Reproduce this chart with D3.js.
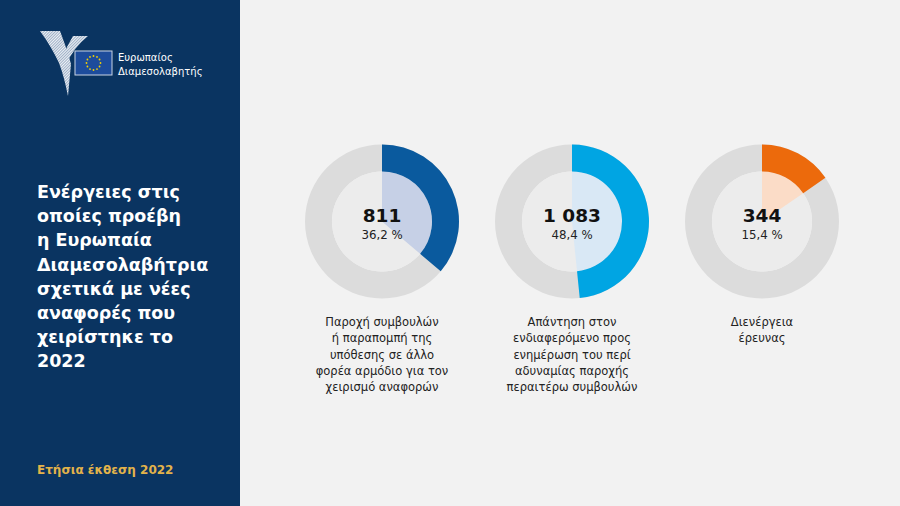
<!DOCTYPE html>
<html><head><meta charset="utf-8">
<script src="https://cdn.jsdelivr.net/npm/d3@7"></script>
<style>
html,body{margin:0;padding:0;background:#f2f2f2;}
svg{display:block;font-family:"DejaVu Sans",sans-serif;}
</style></head>
<body>
<svg id="chart" width="900" height="506"></svg>
<script>
// ---- data ----
const counts = [811, 1083, 344];
const countLabels = ["811", "1 083", "344"];
const percents = [36.2, 48.4, 15.4];
const percentLabels = ["36,2 %", "48,4 %", "15,4 %"];
const categories = [
  ["Παροχή συμβουλών", "ή παραπομπή της", "υπόθεσης σε άλλο", "φορέα αρμόδιο για τον", "χειρισμό αναφορών"],
  ["Απάντηση στον", "ενδιαφερόμενο προς", "ενημέρωση του περί", "αδυναμίας παροχής", "περαιτέρω συμβουλών"],
  ["Διενέργεια", "έρευνας"]
];
const strongColors = ["#0a5a9e", "#00a5e3", "#ec6a0c"];
const lightColors = ["#c6d0e6", "#d9e8f5", "#fbdcc7"];
const titleLines = ["Ενέργειες στις", "οποίες προέβη", "η Ευρωπαία", "Διαμεσολαβήτρια", "σχετικά με νέες", "αναφορές που", "χειρίστηκε το", "2022"];
const footer = "Ετήσια έκθεση 2022";
const logoLines = ["Ευρωπαίος", "Διαμεσολαβητής"];

const svg = d3.select("#chart");
svg.append("rect").attr("x",0).attr("y",0).attr("width",900).attr("height",506).attr("fill","#f2f2f2");
svg.append("rect").attr("x",0).attr("y",0).attr("width",240).attr("height",506).attr("fill","#0a3461");

// logo
const defs = svg.append("defs");
const pat = defs.append("pattern").attr("id","stripes").attr("patternUnits","userSpaceOnUse")
  .attr("width",2).attr("height",2).attr("patternTransform","rotate(45)");
pat.append("rect").attr("width",2).attr("height",2).attr("fill","#9fb0c6");
pat.append("rect").attr("width",1).attr("height",2).attr("fill","#eef2f7");
const logo = svg.append("g");
logo.append("path").attr("d","M40,31 L60,31 Q68,52 71,64 L68,96 Q64,76 59,63 Q51,46 40,31 Z").attr("fill","url(#stripes)");
logo.append("path").attr("d","M73,36 L88,36 Q73,48 66,65 L62,58 Q67,46 73,36 Z").attr("fill","url(#stripes)");
logo.append("rect").attr("x",75).attr("y",51).attr("width",37).attr("height",24)
  .attr("fill","#1d4c9c").attr("stroke","#c9d3e3").attr("stroke-width",1);
d3.range(12).forEach(i=>{
  const a = i/12*2*Math.PI;
  logo.append("circle").attr("cx",93.5+7*Math.sin(a)).attr("cy",63-7*Math.cos(a)).attr("r",0.9).attr("fill","#f5d200");
});
logo.selectAll("text.logo").data(logoLines).enter().append("text")
  .attr("x",118).attr("y",(d,i)=>61+13.5*i).attr("fill","#ffffff").attr("font-size",10).text(d=>d);

// title
svg.append("g").selectAll("text").data(titleLines).enter().append("text")
  .attr("x",37).attr("y",(d,i)=>198+24.2*i).attr("fill","#ffffff")
  .attr("font-size",17.5).attr("font-weight","bold").text(d=>d);

svg.append("text").attr("x",37).attr("y",474).attr("fill","#e3b34a")
  .attr("font-size",12).attr("font-weight","bold").text(footer);

// donuts
const x = d3.scalePoint().domain(d3.range(counts.length)).range([382, 762]);
const cy = 221.5, rOuter = 77, rInner = 50;
const angle = d3.scaleLinear().domain([0,100]).range([0, 2*Math.PI]);
const ringArc = d3.arc().innerRadius(rInner).outerRadius(rOuter);
const wedgeArc = d3.arc().innerRadius(0).outerRadius(rInner);

counts.forEach((c,i)=>{
  const g = svg.append("g").attr("transform",`translate(${x(i)},${cy})`);
  g.append("path").attr("d", ringArc({startAngle:0,endAngle:2*Math.PI})).attr("fill","#dcdcdc");
  g.append("path").attr("d", wedgeArc({startAngle:0,endAngle:2*Math.PI})).attr("fill","#ececec");
  g.append("path").attr("d", wedgeArc({startAngle:0,endAngle:angle(percents[i])})).attr("fill",lightColors[i]);
  g.append("path").attr("d", ringArc({startAngle:0,endAngle:angle(percents[i])})).attr("fill",strongColors[i]);
  g.append("text").attr("x",0).attr("y",0.5).attr("text-anchor","middle").attr("font-size",18.5)
    .attr("font-weight","bold").attr("fill","#111").text(countLabels[i]);
  g.append("text").attr("x",0).attr("y",17.5).attr("text-anchor","middle").attr("font-size",11.8)
    .attr("fill","#222").text(percentLabels[i]);
  svg.append("g").selectAll("text").data(categories[i]).enter().append("text")
    .attr("x",x(i)).attr("y",(d,j)=>326+16.3*j).attr("text-anchor","middle")
    .attr("font-size",11.5).attr("fill","#222").text(d=>d);
});
</script>
</body></html>
